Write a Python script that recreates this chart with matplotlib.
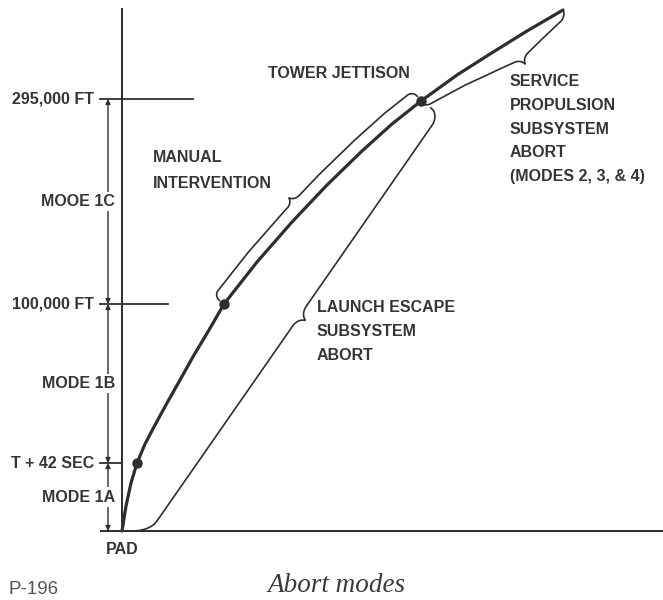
import matplotlib.pyplot as plt
import numpy as np

# Schematic trajectory (diagram units: downrange / altitude, not to scale)
curve_x = [0, 4, 9, 15, 23, 33, 45, 58, 72, 87, 102, 135, 170, 205, 240, 270,
           299, 335, 368, 405, 441]
curve_y = [0, 25, 48, 68, 87, 106, 128, 151, 176, 201, 227, 269, 309, 346,
           380, 407, 430, 456, 477, 500, 521]

# points on the trajectory that are marked with a dot (indices into curve)
event_idx = [3, 10, 16]

# altitude marks on the vertical axis
level_y = [68, 227, 432]
level_labels = ["T + 42 SEC", "100,000 FT", "295,000 FT"]
mode_labels = ["MODE 1A", "MODE 1B", "MOOE 1C"]

INK = "#2e2e2e"
TXT = "#353535"
FONT = ["Liberation Sans", "DejaVu Sans"]


def brace(px, py, side, d, h, w, tip_at=0.5, r=(7, 7), e=(0, 0),
          ease=("circ", "circ"), bow=0.0):
    # curly brace drawn alongside a polyline, offset to one side
    px = np.asarray(px, float)
    py = np.asarray(py, float)
    s = np.concatenate([[0], np.cumsum(np.hypot(np.diff(px), np.diff(py)))])
    L = s[-1]
    ss = np.linspace(0, L, 800)
    bx = np.interp(ss, s, px)
    by = np.interp(ss, s, py)
    tx = np.gradient(bx)
    ty = np.gradient(by)
    k = np.ones(41) / 41
    tx = np.convolve(np.pad(tx, 20, mode="edge"), k, mode="valid")
    ty = np.convolve(np.pad(ty, 20, mode="edge"), k, mode="valid")
    n = np.hypot(tx, ty)
    nx, ny = -ty / n * side, tx / n * side
    mid = tip_at * L
    tri = np.where(ss < mid, ss / mid, (L - ss) / (L - mid))
    off = d + bow * tri
    for dist, rr, ee, kind in zip((ss, L - ss), r, e, ease):
        m = dist < rr
        t = dist[m] / rr
        q = np.sqrt(1 - (1 - t) ** 2) if kind == "circ" else 1 - (1 - t) ** 2
        off[m] = ee + (off[m] - ee) * q
    u = np.abs(ss - mid) / w
    m = u < 1
    off[m] += h * (1 - np.sqrt(1 - (1 - u[m]) ** 2))
    return bx + nx * off, by + ny * off


fig = plt.figure(figsize=(6.63, 6.0), dpi=100)
ax = fig.add_axes([0, 0, 1, 1])
ax.set_xlim(-122, 541)
ax.set_ylim(-69, 531)
ax.axis("off")

# axes of the sketch
ax.plot([0, 0], [0, 523], color=INK, lw=1.4, solid_capstyle="butt")
ax.plot([-22, 541], [0, 0], color=INK, lw=1.4, solid_capstyle="butt")

tick_end = [0, 46, 71]
for y, lab, xe in zip(level_y, level_labels, tick_end):
    ax.plot([-22, xe], [y, y], color=INK, lw=1.3)
    ax.text(-28, y, lab, ha="right", va="center", fontsize=11.5,
            fontweight="bold", color=TXT, family=FONT)

# mode arrows between altitude marks
bounds = [0] + level_y
for lo, hi, lab in zip(bounds[:-1], bounds[1:], mode_labels):
    ax.annotate("", xy=(-14, lo), xytext=(-14, hi),
                arrowprops=dict(arrowstyle="<|-|>", color=INK, lw=1.0,
                                mutation_scale=7, shrinkA=0, shrinkB=0))
    ax.text(-7, (lo + hi) / 2, lab, ha="right", va="center", fontsize=11.5,
            fontweight="bold", color=TXT, family=FONT,
            bbox=dict(fc="white", ec="none", pad=1.5))

ax.text(0, -18, "PAD", ha="center", va="center", fontsize=11.5,
        fontweight="bold", color=TXT, family=FONT)

# trajectory
ax.plot(curve_x, curve_y, color=INK, lw=2.3, solid_capstyle="round",
        solid_joinstyle="round")
ax.plot([curve_x[i] for i in event_idx], [curve_y[i] for i in event_idx],
        "o", color=INK, ms=6.5)

i1, i2 = event_idx[1], event_idx[2]

# manual intervention brace (upper-left side)
bx, by = brace(curve_x[i1:i2 + 1], curve_y[i1:i2 + 1], side=1, d=13, h=7,
               w=9, tip_at=0.43, r=(7, 7), e=(6, 6))
ax.plot(bx, by, color=INK, lw=1.2)

# service propulsion brace (lower-right side)
bx, by = brace(curve_x[i2:], curve_y[i2:], side=-1, d=7, h=7, w=8,
               tip_at=0.64, r=(6, 8), e=(3, 0), bow=14)
ax.plot(bx, by, color=INK, lw=1.2)

# launch escape brace (pad to tower jettison)
bx, by = brace([curve_x[0], curve_x[i2]], [curve_y[0], curve_y[i2]],
               side=-1, d=23, h=9, w=12, tip_at=0.53, r=(28, 14), e=(0, 12),
               ease=("quad", "circ"))
ax.plot(bx, by, color=INK, lw=1.2)

lab_kw = dict(fontsize=11.5, fontweight="bold", color=TXT, family=FONT,
              ha="left", va="center")
ax.text(146, 458, "TOWER JETTISON", **lab_kw)
for k, line in enumerate(["MANUAL", "INTERVENTION"]):
    ax.text(31, 373 - 25.5 * k, line, **lab_kw)
for k, line in enumerate(["SERVICE", "PROPULSION", "SUBSYSTEM", "ABORT",
                          "(MODES 2, 3, & 4)"]):
    ax.text(388, 449 - 23.5 * k, line, **lab_kw)
for k, line in enumerate(["LAUNCH ESCAPE", "SUBSYSTEM", "ABORT"]):
    ax.text(195, 224 - 24 * k, line, **lab_kw)

ax.text(145, -61, "Abort modes", ha="left", va="baseline", fontsize=19.5,
        style="italic", color="#3a3a3a",
        family=["Liberation Serif", "DejaVu Serif"])
ax.text(-114, -63, "P-196", ha="left", va="baseline", fontsize=13.5,
        color="#555555", family=FONT)

fig.savefig("out.png", dpi=100)
